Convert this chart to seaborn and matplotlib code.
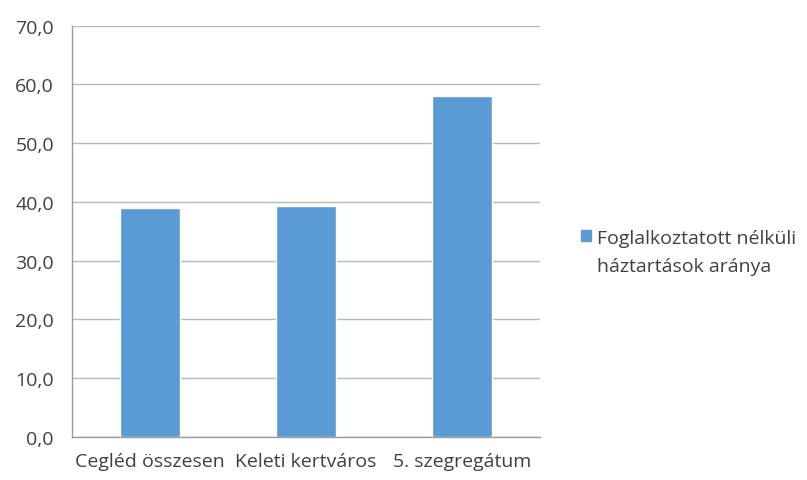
import seaborn as sns
import matplotlib.pyplot as plt
from matplotlib.ticker import FuncFormatter, MultipleLocator, FixedLocator
from matplotlib.patches import Patch

# Adatok
kategoriak = ["Cegléd összesen", "Keleti kertváros", "5. szegregátum"]
ertekek = [38.9, 39.3, 58.1]
sorozat = ["Foglalkoztatott nélküli", "háztartások aránya"]

sns.set_style("white")
plt.rcParams["font.family"] = ["Open Sans", "DejaVu Sans"]

szin = "#5b9bd5"
szoveg = "#404040"

fig = plt.figure(figsize=(8.07, 4.81), dpi=100)
ax = fig.add_axes([0.0892, 0.0894, 0.580, 0.855])

sns.barplot(x=kategoriak, y=ertekek, color=szin, width=0.39, saturation=1, ax=ax)

ax.set_ylim(0, 70)
ax.set_xlim(-0.5, 2.5)
ax.yaxis.set_major_locator(MultipleLocator(10))
ax.yaxis.set_major_formatter(FuncFormatter(lambda v, p: f"{v:.1f}".replace(".", ",")))
ax.set_axisbelow(True)
ax.yaxis.grid(True, color="#b8b8b8", linewidth=1)

for s in ["top", "right"]:
    ax.spines[s].set_visible(False)
for s in ["left", "bottom"]:
    ax.spines[s].set_color("#9a9a9a")
    ax.spines[s].set_linewidth(1)

ax.tick_params(axis="y", length=5, color="#9a9a9a", labelsize=14, labelcolor=szoveg, pad=8)
ax.tick_params(axis="x", which="major", length=0, labelsize=14, labelcolor=szoveg, pad=11)
ax.xaxis.set_minor_locator(FixedLocator([-0.5, 0.5, 1.5, 2.5]))
ax.tick_params(axis="x", which="minor", length=5, color="#9a9a9a", direction="out")
ax.set_xlabel("")
ax.set_ylabel("")

# jelmagyarázat: a négyzet az első sorhoz igazodik
kezelok = [Patch(color=szin, label=sorozat[0]), Patch(color="none", label=sorozat[1])]
ax.legend(handles=kezelok, loc="center left", bbox_to_anchor=(1.05, 0.45),
          frameon=False, fontsize=14, handlelength=0.5, handleheight=0.5,
          handletextpad=0.35, labelspacing=0.55, labelcolor=szoveg)

plt.savefig("out.png", dpi=100)
